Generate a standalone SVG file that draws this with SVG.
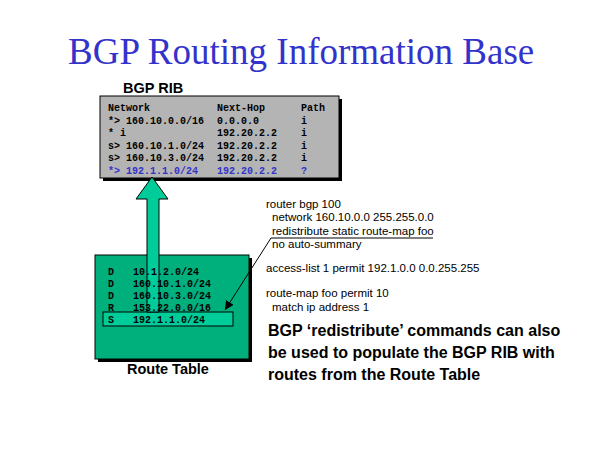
<svg xmlns="http://www.w3.org/2000/svg" width="600" height="450" viewBox="0 0 600 450">
<style>
.mono{font-family:"Liberation Mono","Courier New",monospace;font-size:10px;font-weight:bold;fill:#000}
.blue{fill:#3333cc}
.cfg{font-family:"Liberation Sans",Arial,sans-serif;font-size:11.5px;fill:#000}
.lbl{font-family:"Liberation Sans",Arial,sans-serif;font-size:14.5px;font-weight:bold;fill:#000}
.note{font-family:"Liberation Sans",Arial,sans-serif;font-size:16px;font-weight:bold;fill:#000}
.shadow{fill:#000}
</style>
<defs>
<marker id="ah" viewBox="0 0 10 10" refX="10" refY="5" markerWidth="9" markerHeight="9" markerUnits="userSpaceOnUse" orient="auto">
<path d="M0,0 L10,5 L0,10 z" fill="#000"/>
</marker>
</defs>
<rect width="600" height="450" fill="#fff"/>
<g id="title">
<text x="68" y="64" font-family="'Liberation Serif','Times New Roman',serif" font-size="37" fill="#3333cc">BGP Routing Information Base</text>
</g>
<g id="bgp-rib">
<text class="lbl" x="123" y="93">BGP RIB</text>
<rect class="shadow" x="103" y="99" width="239" height="82"/>
<rect x="100" y="96" width="239" height="82" fill="#b4b4b4" stroke="#000" stroke-width="1"/>
<text class="mono" x="108" y="111">Network</text>
<text class="mono" x="217" y="111">Next-Hop</text>
<text class="mono" x="301" y="111">Path</text>
<text class="mono" x="108" y="123.5">*&gt; 160.10.0.0/16</text>
<text class="mono" x="217" y="123.5">0.0.0.0</text>
<text class="mono" x="301" y="123.5">i</text>
<text class="mono" x="108" y="136">* i</text>
<text class="mono" x="217" y="136">192.20.2.2</text>
<text class="mono" x="301" y="136">i</text>
<text class="mono" x="108" y="148.5">s&gt; 160.10.1.0/24</text>
<text class="mono" x="217" y="148.5">192.20.2.2</text>
<text class="mono" x="301" y="148.5">i</text>
<text class="mono" x="108" y="161">s&gt; 160.10.3.0/24</text>
<text class="mono" x="217" y="161">192.20.2.2</text>
<text class="mono" x="301" y="161">i</text>
<text class="mono blue" x="108" y="173.5">*&gt; 192.1.1.0/24</text>
<text class="mono blue" x="217" y="173.5">192.20.2.2</text>
<text class="mono blue" x="301" y="173.5">?</text>
</g>
<g id="route-table">
<rect class="shadow" x="98" y="258" width="154" height="104"/>
<rect x="95" y="255" width="154" height="104" fill="#00b07c" stroke="#000" stroke-width="1"/>
<rect x="103" y="312" width="130" height="14" fill="#00cc99" stroke="#000" stroke-width="1"/>
<text class="lbl" x="127" y="374">Route Table</text>
</g>
<g id="connectors">
<polygon points="152,177 168,199 159,199 159,312 147,312 147,199 136,199" fill="#00cc99" stroke="#000" stroke-width="1"/>
<line x1="271" y1="238" x2="225" y2="310" stroke="#000" stroke-width="1" marker-end="url(#ah)"/>
<line x1="271" y1="238" x2="433" y2="238" stroke="#000" stroke-width="1"/>
</g>
<g id="route-table-entries">
<text class="mono" x="108" y="275">D</text><text class="mono" x="133" y="275">10.1.2.0/24</text>
<text class="mono" x="108" y="287">D</text><text class="mono" x="133" y="287">160.10.1.0/24</text>
<text class="mono" x="108" y="299">D</text><text class="mono" x="133" y="299">160.10.3.0/24</text>
<text class="mono" x="108" y="311">R</text><text class="mono" x="133" y="311">153.22.0.0/16</text>
<text class="mono" x="108" y="323">S</text><text class="mono" x="133" y="323">192.1.1.0/24</text>
</g>
<g id="config">
<text class="cfg" x="266" y="208">router bgp 100</text>
<text class="cfg" x="272" y="221">network 160.10.0.0 255.255.0.0</text>
<text class="cfg" x="272" y="235">redistribute static route-map foo</text>
<text class="cfg" x="272" y="248">no auto-summary</text>
<text class="cfg" x="266" y="272">access-list 1 permit 192.1.0.0 0.0.255.255</text>
<text class="cfg" x="266" y="297">route-map foo permit 10</text>
<text class="cfg" x="272" y="310.5">match ip address 1</text>
</g>
<g id="note">
<text class="note" x="268" y="336">BGP ‘redistribute’ commands can also</text>
<text class="note" x="268" y="358">be used to populate the BGP RIB with</text>
<text class="note" x="268" y="380">routes from the Route Table</text>
</g>
</svg>
